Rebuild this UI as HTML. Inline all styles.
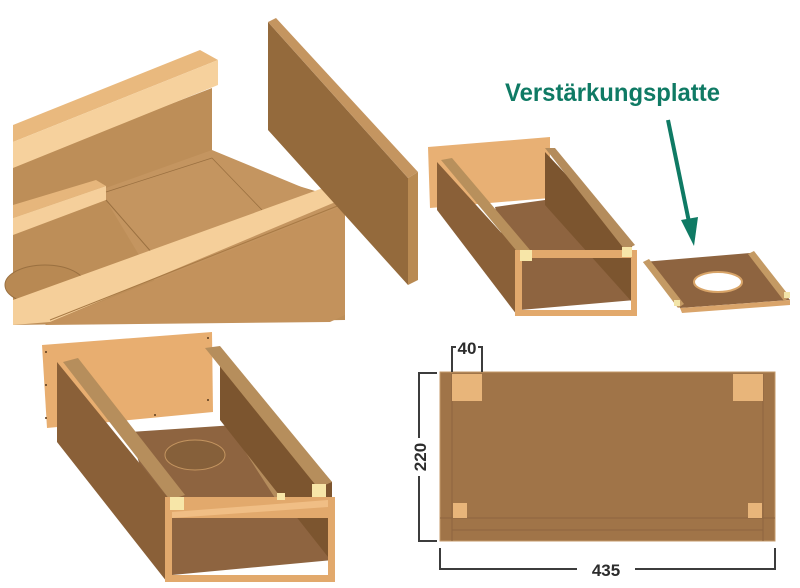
<!DOCTYPE html>
<html><head><meta charset="utf-8"><style>
html,body{margin:0;padding:0;background:#fff;}
svg{display:block;}
</style></head><body>
<svg width="800" height="588" viewBox="0 0 800 588" xmlns="http://www.w3.org/2000/svg">
<rect width="800" height="588" fill="#fff"/>
<!-- Top-left big box -->
<g stroke="none">
<polygon points="13,165 212,88 212,160 345,200 345,320 13,325" fill="#bd8e58"/>
<polygon points="100,190 212,150 345,205 345,300 160,290" fill="#c49560"/>
<polygon points="13,125 200,50 218,60 13,142" fill="#e9b97e"/>
<polygon points="13,142 218,60 218,85 13,168" fill="#f6d19d"/>
<polygon points="13,205 96,180 106,186 13,218" fill="#e6b67c"/>
<polygon points="13,218 106,186 106,200 13,235" fill="#f5cf9b"/>
<line x1="106" y1="200" x2="160" y2="262" stroke="#9a7040" stroke-width="1"/>
<line x1="106" y1="192" x2="212" y2="158" stroke="#9a7040" stroke-width="0.8"/>
<line x1="212" y1="158" x2="262" y2="210" stroke="#9a7040" stroke-width="0.8"/>
<ellipse cx="45" cy="285" rx="40" ry="20" fill="#b88953" stroke="#9a7040"/>
<polygon points="13,300 323,188 345,198 50,322 13,325" fill="#f5cf9a"/>
<polygon points="55,320 345,205 345,315 330,322 45,325" fill="#c3925c"/>
<line x1="50" y1="320" x2="345" y2="203" stroke="#a87a45" stroke-width="1"/>
</g>
<!-- Top panel -->
<polygon points="268,22 408,178 408,285 268,130" fill="#946a3c"/>
<polygon points="268,22 276,18 418,172 408,178" fill="#c49560"/>
<polygon points="408,178 418,172 418,280 408,285" fill="#b98a52"/>
<!-- Middle box -->
<polygon points="428,147 550,137 550,198 430,208" fill="#e8b074"/>
<polygon points="495,207 545,200 635,300 520,310" fill="#8e6440"/>
<polygon points="545,152 632,245 632,302 545,205" fill="#7c552f"/>
<polygon points="545,148 555,148 635,245 625,250" fill="#b48c5c"/>
<polygon points="437,162 517,250 517,315 437,210" fill="#8a6038"/>
<polygon points="441,160 452,158 530,250 520,255" fill="#b8905c"/>
<path d="M515,250 H637 V316 H515 Z M522,258 V310 H631 V258 Z" fill="#e2a96c" fill-rule="evenodd"/>
<rect x="520" y="250" width="12" height="11" fill="#f7e6a8"/>
<rect x="622" y="247" width="10" height="10" fill="#f7e6a8"/>
<!-- Plate -->
<polygon points="643,262 750,253 790,300 680,308" fill="#8e6440"/>
<polygon points="680,308 790,300 790,305 682,313" fill="#d9a46a"/>
<ellipse cx="718" cy="282" rx="24" ry="10" fill="#fff" stroke="#d8a468" stroke-width="2"/>
<polygon points="643,262 649,259 684,304 678,308" fill="#c49a64"/>
<polygon points="748,254 754,251 790,297 784,301" fill="#c49a64"/>
<rect x="674" y="300" width="6" height="6" fill="#f2e4a8"/>
<rect x="784" y="292" width="6" height="6" fill="#f2e4a8"/>
<!-- Arrow -->
<line x1="668" y1="120" x2="689" y2="222" stroke="#0f7a64" stroke-width="4"/>
<polygon points="681,220 698,217 694,246" fill="#0f7a64"/>
<text x="505" y="101" font-family="Liberation Sans, sans-serif" font-weight="bold" font-size="25" fill="#0f7a64" textLength="215" lengthAdjust="spacingAndGlyphs">Verstärkungsplatte</text>
<!-- Bottom-left box -->
<polygon points="42,345 212,332 213,412 47,428" fill="#e8ae70"/>
<g fill="#5a3a1c"><circle cx="46" cy="352" r="1"/><circle cx="46" cy="385" r="1"/><circle cx="46" cy="418" r="1"/><circle cx="208" cy="338" r="1"/><circle cx="208" cy="400" r="1"/><circle cx="155" cy="415" r="1"/></g>
<polygon points="130,432 235,425 333,560 172,575" fill="#8e6440"/>
<ellipse cx="195" cy="455" rx="30" ry="15" fill="#86603a" stroke="#c49560"/>
<polygon points="235,436 242,434 282,495 275,498" fill="#b48c5c"/>
<polygon points="220,352 332,482 332,562 220,420" fill="#7c552f"/>
<polygon points="205,348 220,346 332,482 318,488" fill="#b68e5c"/>
<polygon points="57,362 167,497 167,582 57,442" fill="#8a6038"/>
<polygon points="63,362 78,358 185,495 170,500" fill="#b68e5c"/>
<path d="M165,497 H335 V582 H165 Z M172,518 V575 H328 V518 Z" fill="#e2a96c" fill-rule="evenodd"/>
<polygon points="172,512 328,500 328,507 172,518" fill="#f0be85"/>
<rect x="170" y="497" width="14" height="13" fill="#f7e6a8"/>
<rect x="312" y="484" width="14" height="13" fill="#f7e6a8"/>
<rect x="277" y="493" width="8" height="7" fill="#f7e6a8"/>
<!-- Dimension drawing -->
<rect x="440" y="372" width="335" height="169" fill="#a07448" stroke="#c49a6a" stroke-width="1"/>
<line x1="452" y1="374" x2="452" y2="541" stroke="#8e6540"/>
<line x1="763" y1="374" x2="763" y2="541" stroke="#8e6540"/>
<line x1="440" y1="518" x2="775" y2="518" stroke="#8e6540"/>
<line x1="452" y1="530" x2="763" y2="530" stroke="#8e6540"/>
<rect x="452" y="374" width="30" height="27" fill="#e8b57a"/>
<rect x="733" y="374" width="30" height="27" fill="#e8b57a"/>
<rect x="453" y="503" width="14" height="15" fill="#e8b57a"/>
<rect x="748" y="503" width="14" height="15" fill="#e8b57a"/>
<g stroke="#3c3c3c" stroke-width="2" fill="none">
<polyline points="437,373 419,373 419,541 437,541"/>
<polyline points="452,372 452,347 456,347"/>
<polyline points="482,372 482,347 478,347"/>
<polyline points="440,548 440,569 577,569"/>
<polyline points="775,548 775,569 635,569"/>
</g>
<rect x="410" y="438" width="20" height="38" fill="#fff"/>
<g font-family="Liberation Sans, sans-serif" font-weight="bold" font-size="17" fill="#2c2c2c">
<text x="467" y="354" text-anchor="middle">40</text>
<text x="606" y="576" text-anchor="middle">435</text>
<text transform="translate(426,457) rotate(-90)" text-anchor="middle">220</text>
</g>
</svg>
</body></html>
